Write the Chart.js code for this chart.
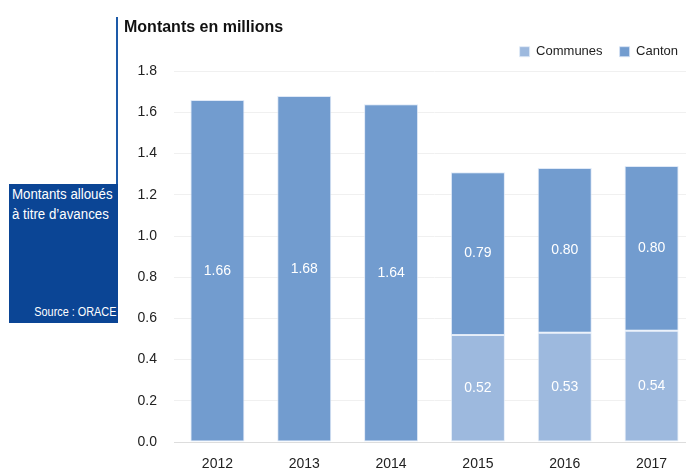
<!DOCTYPE html>
<html>
<head>
<meta charset="utf-8">
<script src="https://cdn.jsdelivr.net/npm/chart.js@4"></script>
<style>
  html, body { margin:0; padding:0; width:686px; height:471px; overflow:hidden; background:#fff; font-family:'Liberation Sans', Arial, sans-serif; }
  #vline { position:absolute; left:116px; top:17px; width:2px; height:168px; background:#1d5aa8; }
  #box { position:absolute; left:9px; top:184px; width:109px; height:139px; background:#0b4595; color:#fff; box-sizing:border-box; }
  #box .t { position:absolute; left:3px; top:0px; font-size:14px; line-height:20px; transform:scaleX(0.95); transform-origin:left top; white-space:nowrap; }
  #box .s { position:absolute; right:2px; bottom:4px; font-size:12.5px; transform:scaleX(0.87); transform-origin:right top; white-space:nowrap; }
  #wrap { position:absolute; left:118px; top:0; width:578px; height:471px; }
  canvas { display:block; }
</style>
</head>
<body>
<div id="vline"></div>
<div id="box"><div class="t">Montants alloués<br>à titre d’avances</div><div class="s">Source : ORACE</div></div>
<div id="wrap"><canvas id="c" width="578" height="471"></canvas></div>
<script>
const categories = ['2012', '2013', '2014', '2015', '2016', '2017'];
const communes = [null, null, null, 0.52, 0.53, 0.54];
const canton = [1.66, 1.68, 1.64, 0.79, 0.80, 0.80];
const seriesNames = ['Communes', 'Canton'];
const titleText = 'Montants en millions';

Chart.defaults.font.family = "'Liberation Sans', Arial, sans-serif";

const labelPlugin = {
  id: 'barLabels',
  afterDatasetsDraw(chart) {
    const ctx = chart.ctx;
    ctx.save();
    ctx.fillStyle = '#ffffff';
    ctx.font = "14px 'Liberation Sans', Arial, sans-serif";
    ctx.textAlign = 'center';
    ctx.textBaseline = 'middle';
    chart.data.datasets.forEach((ds, di) => {
      const meta = chart.getDatasetMeta(di);
      meta.data.forEach((el, i) => {
        const v = ds.data[i];
        if (v === null || v === undefined) return;
        ctx.fillText(v.toFixed(2), el.x, (el.y + el.base) / 2);
      });
    });
    ctx.restore();
  }
};

const legendGap = {
  id: 'legendGap',
  afterInit(chart) {
    const lg = chart.legend;
    if (!lg) return;
    const f = lg.fit.bind(lg);
    lg.fit = function () { f(); this.height += 3; };
  }
};

new Chart(document.getElementById('c'), {
  type: 'bar',
  data: {
    labels: categories,
    datasets: [
      { label: seriesNames[0], data: communes, backgroundColor: '#9db9de', borderColor: 'rgba(225,235,248,0.8)', borderWidth: 1, borderSkipped: false },
      { label: seriesNames[1], data: canton, backgroundColor: '#729ccf', borderColor: 'rgba(215,228,245,0.8)', borderWidth: 1, borderSkipped: false }
    ]
  },
  options: {
    responsive: false,
    animation: false,
    categoryPercentage: 1,
    barPercentage: 0.622,
    layout: { padding: { left: 6, right: 1, top: 0, bottom: 0 } },
    plugins: {
      title: { display: true, text: titleText, align: 'start', color: '#111', font: { size: 16, weight: 'bold' }, padding: { top: 18, bottom: -9 } },
      legend: { display: true, align: 'end', labels: { boxWidth: 10, boxHeight: 10, color: '#222', font: { size: 13 }, padding: 17 } },
      tooltip: { enabled: false }
    },
    scales: {
      x: {
        stacked: true,
        afterFit(scale) { scale.height = 29; },
        grid: { display: false, drawTicks: false },
        border: { display: true, color: '#dddddd', width: 1 },
        ticks: { color: '#222', font: { size: 14 }, padding: 14 }
      },
      y: {
        stacked: true,
        min: 0, max: 1.8,
        afterFit(scale) { scale.width = 50; },
        grid: { color: '#f0f0f0', drawTicks: false },
        border: { display: false },
        ticks: { stepSize: 0.2, color: '#222', font: { size: 14 }, padding: 17, callback: v => Number(v).toFixed(1) }
      }
    }
  },
  plugins: [labelPlugin, legendGap]
});
</script>
</body>
</html>
